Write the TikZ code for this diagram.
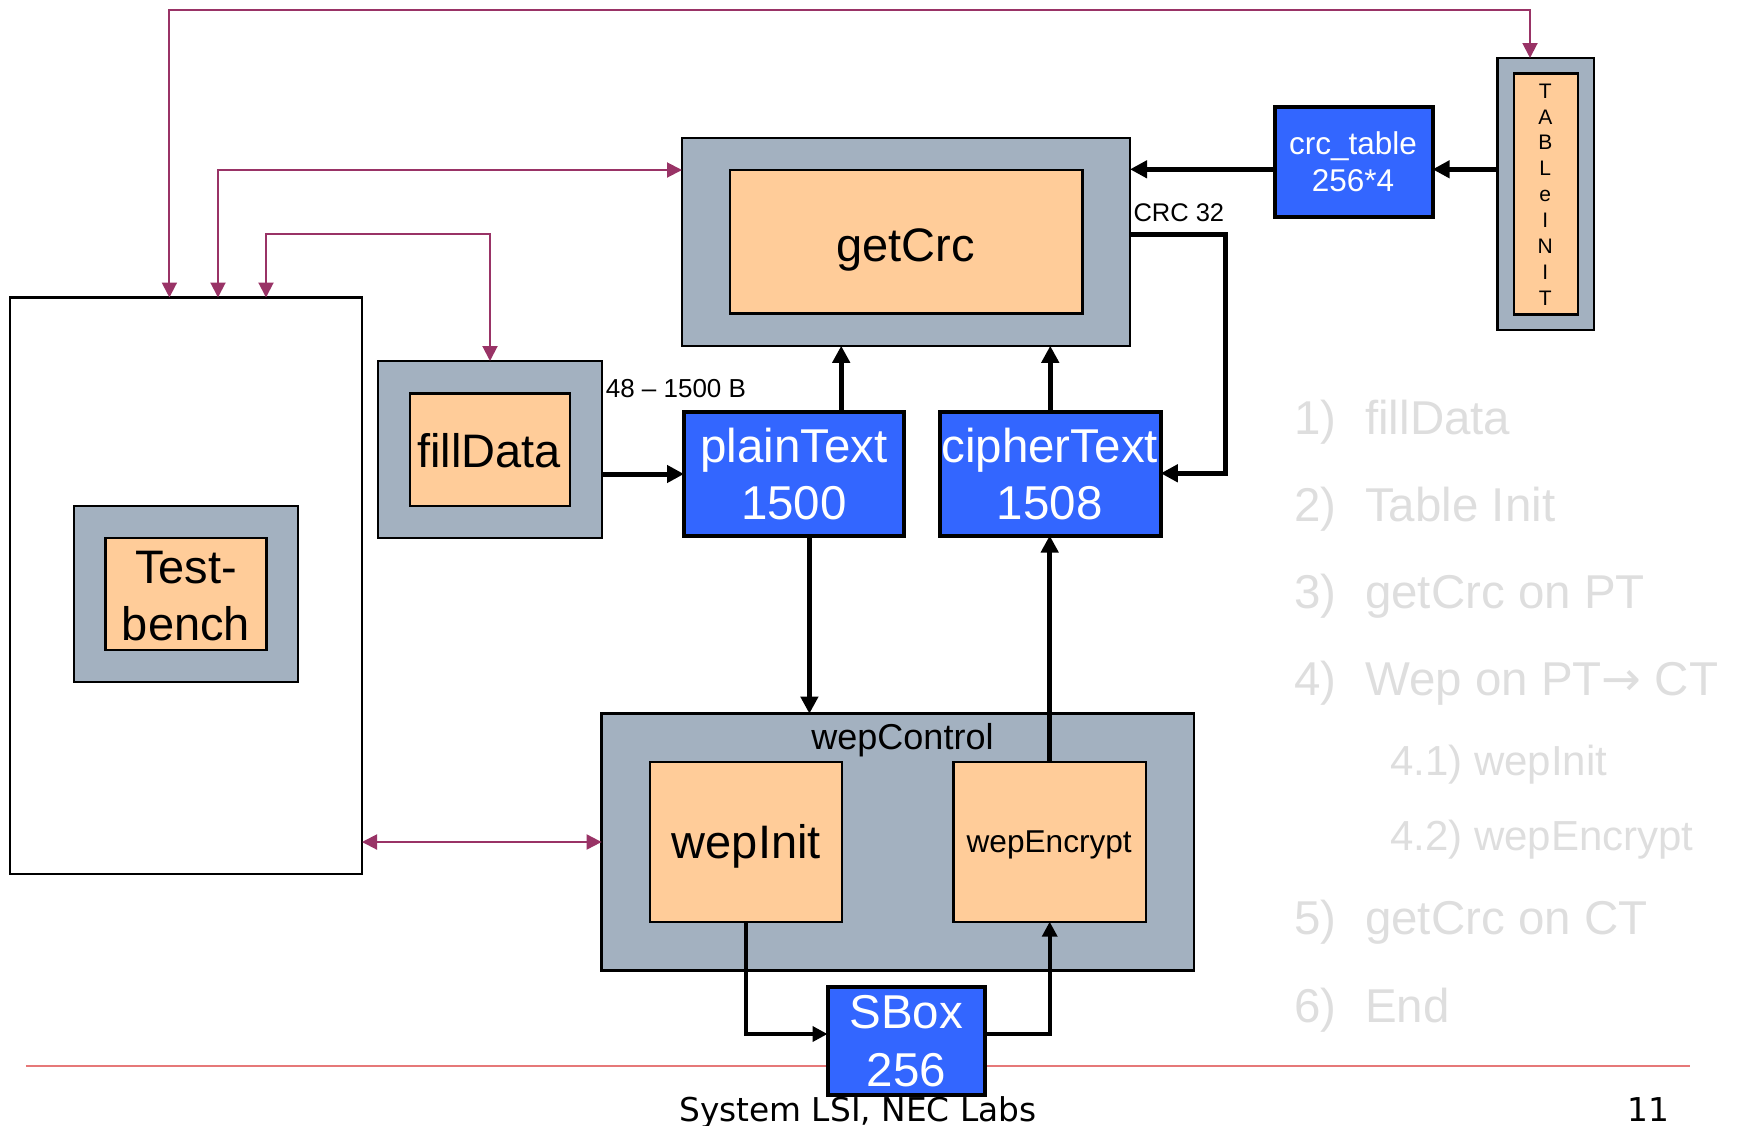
\documentclass[tikz,border=0pt]{standalone}
\usepackage{fontspec}
\setmainfont{Liberation Sans}
\newfontfamily\footfont{DejaVu Sans}
\usetikzlibrary{arrows.meta}
\definecolor{panelgray}{RGB}{163,177,192}
\definecolor{coreorange}{RGB}{255,204,153}
\definecolor{memblue}{RGB}{51,102,255}
\definecolor{ctrlmag}{RGB}{153,51,102}
\definecolor{rulered}{RGB}{230,120,120}
\definecolor{listgray}{RGB}{222,222,222}
\newcommand\fsz[2]{\fontsize{#1}{#2}\selectfont}

\begin{document}
\begin{tikzpicture}[x=1pt,y=-1pt,
  box/.style={rectangle, inner sep=0pt, outer sep=0pt},
  frame/.style={box, draw=black, line width=2.5pt, fill=white},
  panel/.style={box, draw=black, line width=2.4pt, fill=panelgray},
  core/.style={box, draw=black, line width=2.4pt, fill=coreorange},
  mem/.style={box, draw=black, line width=4pt, fill=memblue},
  txt/.style={inner sep=0pt, outer sep=0pt, anchor=base, align=center},
  memtxt/.style={txt, text=white},
  note/.style={inner sep=0pt, anchor=base west},
  listitem/.style={inner sep=0pt, anchor=base west, text=listgray},
  link/.style={draw=ctrlmag, line width=2pt,
    {Triangle[length=15pt,width=15pt]}-{Triangle[length=15pt,width=15pt]}},
  bus/.style={draw=black, line width=5pt, -{Triangle[length=17pt,width=17pt]}},
  thinbus/.style={draw=black, line width=3.6pt, -{Triangle[length=15pt,width=15pt]}}
]
\useasboundingbox (0,0) rectangle (1746,1125);

% footer rule and caption (behind the SBox)
\coordinate (ruleL) at (25.8,1065.7);
\coordinate (ruleR) at (1690,1065.7);
\draw[rulered, line width=1.6pt] (ruleL) -- (ruleR);
\node[note, font=\footfont\fsz{32.8}{36}] (foot) at (679,1121) {System LSI, NEC Labs};
\node[note, font=\footfont\fsz{32.8}{36}] (pageno) at (1627,1121) {11};

% testbench frame (multi-line texts are placed by their last baseline)
\node[frame, minimum width=352pt, minimum height=576.5pt] (bench) at (186,585.75) {};
\node[panel, minimum width=224pt, minimum height=176pt] (tbpanel) at (186,594) {};
\node[core, minimum width=160.7pt, minimum height=112.3pt] (tbcore) at (186,594.1) {};
\node[txt, font=\fsz{47}{57.3}] (tbtxt) at (186,640.3) {Test-\\bench};

% fillData
\node[panel, minimum width=224pt, minimum height=177pt] (fillpanel) at (490,449.5) {};
\node[core, minimum width=160pt, minimum height=112.4pt] (fillcore) at (490,449.8) {};
\node[txt, font=\fsz{47}{57}] (filltxt) at (489,467.9) {fillData};
\node[note, font=\fsz{26}{30}] (lenlbl) at (605.6,397.1) {48 – 1500 B};

% getCrc
\node[panel, minimum width=448pt, minimum height=207.7pt] (getcrc) at (906,241.9) {};
\node[core, minimum width=352.4pt, minimum height=143.6pt] (crccore) at (906.2,241.8) {};
\node[txt, font=\fsz{47}{57}] (crctxt) at (905.5,261) {getCrc};
\node[note, font=\fsz{25.5}{30}] (crclbl) at (1133.3,221.7) {CRC 32};

% buffers
\node[mem, minimum width=219.5pt, minimum height=124pt] (plain) at (793.75,473.5) {};
\node[memtxt, font=\fsz{47.5}{57}] (plaintxt) at (794,519.6) {plainText\\1500};
\node[mem, minimum width=221pt, minimum height=124pt] (cipher) at (1050.25,473.5) {};
\node[memtxt, font=\fsz{47.5}{57}] (ciphertxt) at (1049.7,519.6) {cipherText\\1508};
\node[mem, minimum width=158pt, minimum height=109.6pt] (crct) at (1353.6,161.8) {};
\node[memtxt, font=\fsz{31.5}{37.5}] (crcttxt) at (1353,191.8) {crc\_table\\256*4};

% table init column
\node[panel, minimum width=96.4pt, minimum height=272pt] (tblpanel) at (1545.8,194) {};
\node[core, minimum width=64.3pt, minimum height=240.7pt] (tblcore) at (1545.9,194) {};
\node[txt, font=\fsz{21}{25.84}] (tbltxt) at (1545.3,305) {T\\A\\B\\L\\e\\I\\N\\I\\T};

% wepControl
\node[panel, minimum width=592.4pt, minimum height=256.7pt] (wepc) at (897.8,842) {};
\node[txt, font=\fsz{36}{40}] (wepctxt) at (902.5,749) {wepControl};
\node[core, minimum width=192.2pt, minimum height=159.7pt] (wepi) at (745.9,841.85) {};
\node[txt, font=\fsz{47}{57}] (wepitxt) at (746.3,858.7) {wepInit};
\node[core, minimum width=192.6pt, minimum height=159.7pt] (wepe) at (1049.7,841.85) {};
\node[txt, font=\fsz{31.6}{36}] (wepetxt) at (1049.2,852.7) {wepEncrypt};

% SBox
\node[mem, minimum width=157pt, minimum height=107.5pt] (sbox) at (906,1041) {};
\node[memtxt, font=\fsz{47.5}{58.4}] (sboxtxt) at (906.3,1086.7) {SBox\\256};

% control links from the testbench
\coordinate (topbend) at (169.4,10);
\draw[link] (bench.north -| 169.4,0) -- (topbend) -| (tblpanel.north -| 1530,0);
\draw[link] (bench.north -| 218,0) |- (getcrc.west |- 0,170);
\draw[link] (bench.north -| 266,0) |- (fillpanel.north |- 0,234) -- (fillpanel.north);
\draw[link] (bench.east |- 0,842) -- (wepc.west |- 0,842);

% data paths
\draw[bus] (fillpanel.east |- 0,474) -- (plain.west |- 0,474);
\draw[bus] (crct.west |- 0,169.3) -- (getcrc.east |- 0,169.3);
\draw[bus] (tblpanel.west |- 0,169.3) -- (crct.east |- 0,169.3);
\draw[bus] (plain.north -| 841.2,0) -- (getcrc.south -| 841.2,0);
\draw[bus] (cipher.north) -- (getcrc.south -| cipher.north);
\coordinate (crcbend) at (1225.7,234.3);
\draw[bus] (getcrc.east |- crcbend) -- (crcbend) |- (cipher.east |- 0,473.3);
\draw[bus] (plain.south -| 809.4,0) -- (wepc.north -| 809.4,0);
\draw[bus] (wepe.north) -- (cipher.south -| wepe.north);
\draw[thinbus] (wepi.south) |- (sbox.west |- 0,1034);
\draw[thinbus] (sbox.east |- 0,1034) -| (wepe.south);

% step list
\node[listitem, font=\fsz{47.5}{57}] (s1) at (1294,434) {\makebox[71pt][l]{1)}fillData};
\node[listitem, font=\fsz{47.5}{57}] (s2) at (1294,521.4) {\makebox[71pt][l]{2)}Table Init};
\node[listitem, font=\fsz{47.5}{57}] (s3) at (1294,608.4) {\makebox[71pt][l]{3)}getCrc on PT};
\node[listitem, font=\fsz{47.5}{57}] (s4) at (1294,695) {\makebox[71pt][l]{4)}Wep on PT{\footfont→} CT};
\node[listitem, font=\fsz{42}{50}] (s41) at (1390,775) {4.1) wepInit};
\node[listitem, font=\fsz{42}{50}] (s42) at (1390,850.7) {4.2) wepEncrypt};
\node[listitem, font=\fsz{47.5}{57}] (s5) at (1294,934.4) {\makebox[71pt][l]{5)}getCrc on CT};
\node[listitem, font=\fsz{47.5}{57}] (s6) at (1294,1022.1) {\makebox[71pt][l]{6)}End};
\end{tikzpicture}
\end{document}
